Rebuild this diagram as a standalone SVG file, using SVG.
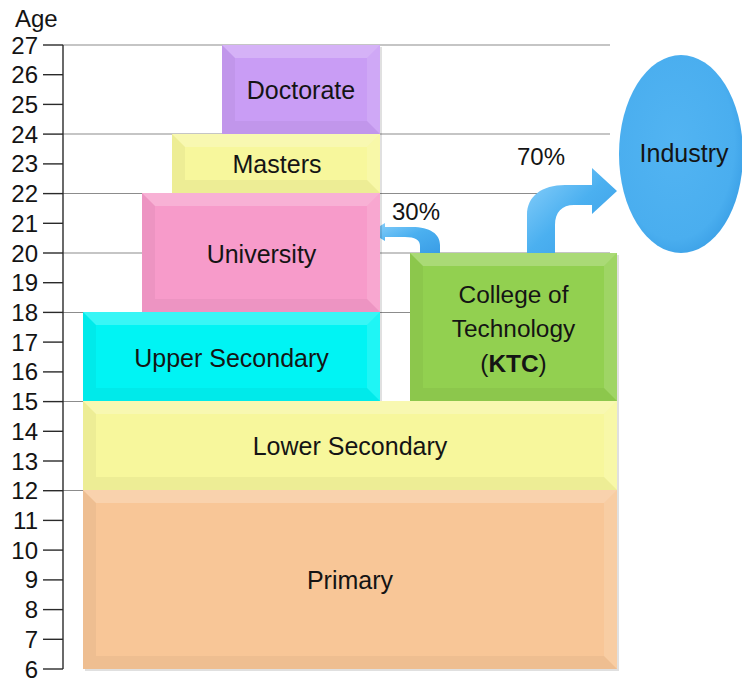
<svg xmlns="http://www.w3.org/2000/svg" width="742" height="681" viewBox="0 0 742 681">
<defs>
<style>
text{font-family:"Liberation Sans",Arial,sans-serif;fill:#141414}
.tk{font-size:24px;text-anchor:end}
.lb{font-size:25px;text-anchor:middle}
.pc{font-size:24px;text-anchor:middle}
.grid{stroke:#8c8c8c;stroke-width:1.2;fill:none}
.ax{stroke:#2a2a2a;stroke-width:1.4;fill:none}
.bt{fill:#ffffff;fill-opacity:0.22}
.bl{fill:#000000;fill-opacity:0.04}
.br{fill:#ffffff;fill-opacity:0.12}
.bb{fill:#000000;fill-opacity:0.04}
.sh{fill:#000000;fill-opacity:0.12}
.arrow{fill:url(#arrowGrad)}
</style>
<linearGradient id="arrowGrad" x1="0" y1="0" x2="1" y2="1">
<stop offset="0" stop-color="#8fd2fb"/>
<stop offset="0.5" stop-color="#4bb0f0"/>
<stop offset="1" stop-color="#3a9de6"/>
</linearGradient>
<radialGradient id="ellGrad" cx="0.45" cy="0.45" r="0.6">
<stop offset="0" stop-color="#52b4f2"/>
<stop offset="0.8" stop-color="#4aaeef"/>
<stop offset="1" stop-color="#3a9fe6"/>
</radialGradient>
</defs>
<rect width="742" height="681" fill="#ffffff"/>

<g id="gridlines">
<line class="grid" x1="63" y1="45" x2="610" y2="45"/>
<line class="grid" x1="63" y1="134" x2="610" y2="134"/>
<line class="grid" x1="63" y1="193.5" x2="610" y2="193.5"/>
<line class="grid" x1="63" y1="253" x2="610" y2="253"/>
<line class="grid" x1="63" y1="312.5" x2="610" y2="312.5"/>
<line class="grid" x1="63" y1="401.5" x2="610" y2="401.5"/>
<line class="grid" x1="63" y1="490.5" x2="610" y2="490.5"/>
</g>

<g id="axis">
<text x="15" y="27" style="font-size:24px">Age</text>
<line class="ax" x1="63" y1="45" x2="63" y2="669"/>
<g class="ax">
<line x1="43" y1="669" x2="63" y2="669"/>
<line x1="43" y1="639.3" x2="63" y2="639.3"/>
<line x1="43" y1="609.6" x2="63" y2="609.6"/>
<line x1="43" y1="579.9" x2="63" y2="579.9"/>
<line x1="43" y1="550.1" x2="63" y2="550.1"/>
<line x1="43" y1="520.4" x2="63" y2="520.4"/>
<line x1="43" y1="490.7" x2="63" y2="490.7"/>
<line x1="43" y1="461" x2="63" y2="461"/>
<line x1="43" y1="431.3" x2="63" y2="431.3"/>
<line x1="43" y1="401.6" x2="63" y2="401.6"/>
<line x1="43" y1="371.9" x2="63" y2="371.9"/>
<line x1="43" y1="342.1" x2="63" y2="342.1"/>
<line x1="43" y1="312.4" x2="63" y2="312.4"/>
<line x1="43" y1="282.7" x2="63" y2="282.7"/>
<line x1="43" y1="253" x2="63" y2="253"/>
<line x1="43" y1="223.3" x2="63" y2="223.3"/>
<line x1="43" y1="193.6" x2="63" y2="193.6"/>
<line x1="43" y1="163.9" x2="63" y2="163.9"/>
<line x1="43" y1="134.1" x2="63" y2="134.1"/>
<line x1="43" y1="104.4" x2="63" y2="104.4"/>
<line x1="43" y1="74.7" x2="63" y2="74.7"/>
<line x1="43" y1="45" x2="63" y2="45"/>
</g>
<text class="tk" x="38" y="677.5">6</text>
<text class="tk" x="38" y="647.8">7</text>
<text class="tk" x="38" y="618.1">8</text>
<text class="tk" x="38" y="588.4">9</text>
<text class="tk" x="38" y="558.6">10</text>
<text class="tk" x="38" y="528.9">11</text>
<text class="tk" x="38" y="499.2">12</text>
<text class="tk" x="38" y="469.5">13</text>
<text class="tk" x="38" y="439.8">14</text>
<text class="tk" x="38" y="410.1">15</text>
<text class="tk" x="38" y="380.4">16</text>
<text class="tk" x="38" y="350.6">17</text>
<text class="tk" x="38" y="320.9">18</text>
<text class="tk" x="38" y="291.2">19</text>
<text class="tk" x="38" y="261.5">20</text>
<text class="tk" x="38" y="231.8">21</text>
<text class="tk" x="38" y="202.1">22</text>
<text class="tk" x="38" y="172.4">23</text>
<text class="tk" x="38" y="142.6">24</text>
<text class="tk" x="38" y="112.9">25</text>
<text class="tk" x="38" y="83.2">26</text>
<text class="tk" x="38" y="53.5">27</text>
</g>

<g id="connectors">
<path class="arrow" d="M420,253 L420,246 C420,240 415,237 405,237 L385,237 L385,241 L370,232 L385,223 L385,227 L412,227 C430,227 440,234 440,245 L440,253 Z"/>
<path class="arrow" d="M527,253 L527,215 C527,196 542,185 565,185 L592,185 L592,168 L617,191 L592,214 L592,205 L574,205 C562,205 555,212 555,225 L555,253 Z"/>
<text class="pc" x="416" y="220">30%</text>
<text class="pc" x="541" y="165">70%</text>
</g>

<g id="node-doctorate">
<rect class="sh" x="224" y="47" width="158" height="89"/>
<rect x="222" y="45" width="158" height="89" fill="#c99df5"/>
<polygon class="bt" points="222,45 380,45 367,58 235,58"/>
<polygon class="bl" points="222,45 235,58 235,121 222,134"/>
<polygon class="br" points="380,45 380,134 367,121 367,58"/>
<polygon class="bb" points="222,134 235,121 367,121 380,134"/>
<text class="lb" x="301" y="99">Doctorate</text>
</g>

<g id="node-masters">
<rect class="sh" x="174" y="136" width="208" height="59"/>
<rect x="172" y="134" width="208" height="59" fill="#f7f79c"/>
<polygon class="bt" points="172,134 380,134 367,147 185,147"/>
<polygon class="bl" points="172,134 185,147 185,180 172,193"/>
<polygon class="br" points="380,134 380,193 367,180 367,147"/>
<polygon class="bb" points="172,193 185,180 367,180 380,193"/>
<text class="lb" x="277" y="173">Masters</text>
</g>

<g id="node-university">
<rect class="sh" x="144" y="195" width="238" height="119"/>
<rect x="142" y="193" width="238" height="119" fill="#f79bca"/>
<polygon class="bt" points="142,193 380,193 367,206 155,206"/>
<polygon class="bl" points="142,193 155,206 155,299 142,312"/>
<polygon class="br" points="380,193 380,312 367,299 367,206"/>
<polygon class="bb" points="142,312 155,299 367,299 380,312"/>
<text class="lb" x="261.5" y="263">University</text>
</g>

<g id="node-upper-secondary">
<rect class="sh" x="85" y="314" width="297" height="89"/>
<rect x="83" y="312" width="297" height="89" fill="#00f4f4"/>
<polygon class="bt" points="83,312 380,312 367,325 96,325"/>
<polygon class="bl" points="83,312 96,325 96,388 83,401"/>
<polygon class="br" points="380,312 380,401 367,388 367,325"/>
<polygon class="bb" points="83,401 96,388 367,388 380,401"/>
<text class="lb" x="231.5" y="367">Upper Secondary</text>
</g>

<g id="node-ktc">
<rect class="sh" x="412" y="255" width="207" height="148"/>
<rect x="410" y="253" width="207" height="148" fill="#92d050"/>
<polygon class="bt" points="410,253 617,253 604,266 423,266"/>
<polygon class="bl" points="410,253 423,266 423,388 410,401"/>
<polygon class="br" points="617,253 617,401 604,388 604,266"/>
<polygon class="bb" points="410,401 423,388 604,388 617,401"/>
<text class="lb" x="513.5" y="303" style="font-size:24.4px">College of</text>
<text class="lb" x="513.5" y="337" style="font-size:24.4px">Technology</text>
<text class="lb" x="513.5" y="372" style="font-size:24.4px">(<tspan font-weight="bold">KTC</tspan>)</text>
</g>

<g id="node-lower-secondary">
<rect class="sh" x="85" y="403" width="534" height="89"/>
<rect x="83" y="401" width="534" height="89" fill="#f7f79c"/>
<polygon class="bt" points="83,401 617,401 604,414 96,414"/>
<polygon class="bl" points="83,401 96,414 96,477 83,490"/>
<polygon class="br" points="617,401 617,490 604,477 604,414"/>
<polygon class="bb" points="83,490 96,477 604,477 617,490"/>
<text class="lb" x="350" y="455">Lower Secondary</text>
</g>

<g id="node-primary">
<rect class="sh" x="85" y="492" width="534" height="179"/>
<rect x="83" y="490" width="534" height="179" fill="#f8c697"/>
<polygon class="bt" points="83,490 617,490 604,503 96,503"/>
<polygon class="bl" points="83,490 96,503 96,656 83,669"/>
<polygon class="br" points="617,490 617,669 604,656 604,503"/>
<polygon class="bb" points="83,669 96,656 604,656 617,669"/>
<text class="lb" x="350" y="589">Primary</text>
</g>

<g id="node-industry">
<ellipse cx="681" cy="154" rx="62" ry="99" fill="url(#ellGrad)"/>
<text class="lb" x="684" y="162">Industry</text>
</g>
</svg>
